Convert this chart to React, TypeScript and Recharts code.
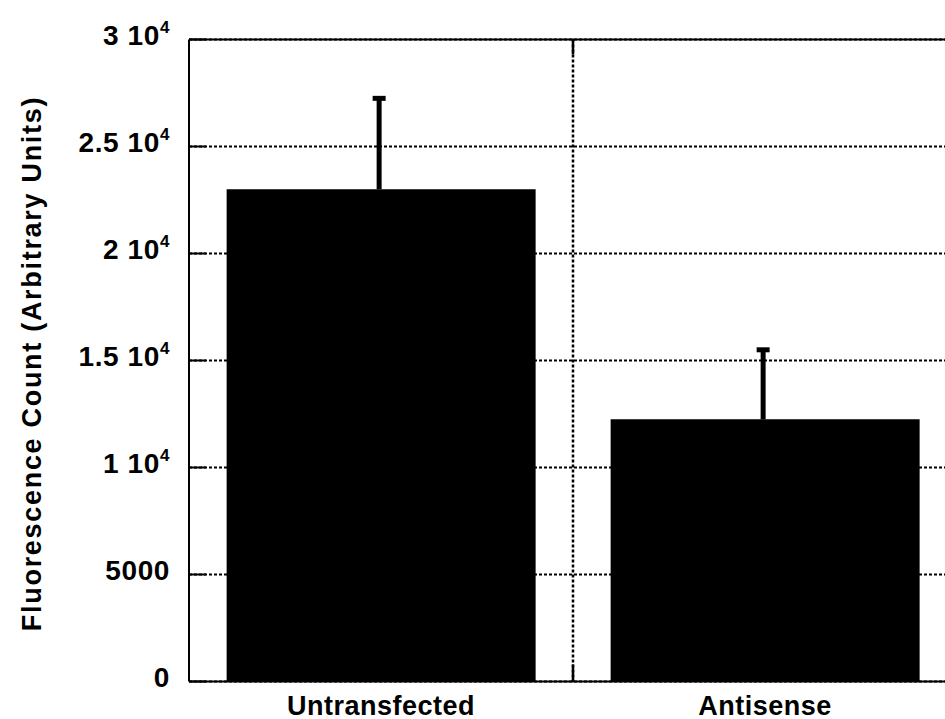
import React from 'react';
import { BarChart, Bar, XAxis, YAxis, CartesianGrid, ReferenceLine } from 'recharts';

const categories = ['Untransfected', 'Antisense'];
const means = [23000, 12250];
const errors = [4250, 3250];
const yTicks = [0, 5000, 10000, 15000, 20000, 25000, 30000];
const yTickBase = ['0', '5000', '1 10', '1.5 10', '2 10', '2.5 10', '3 10'];
const yTickExp = ['', '', '4', '4', '4', '4', '4'];
const yLabel = 'Fluorescence Count (Arbitrary Units)';

const data = categories.map((c, i) => ({ name: c, mean: means[i], err: errors[i] }));

const FONT = '"Liberation Sans", Arial, Helvetica, sans-serif';

const YTick = (props: any) => {
  const { x, y, payload } = props;
  const i = yTicks.indexOf(payload.value);
  return (
    <g>
      <line x1={x} x2={x + 17} y1={y} y2={y} stroke="#000" strokeWidth={2} />
      <text
        x={x - 19}
        y={y + 5}
        textAnchor="end"
        fontFamily={FONT}
        fontWeight="bold"
        fontSize={28}
        letterSpacing={0.6}
        fill="#000"
      >
        {yTickBase[i]}
        {yTickExp[i] ? <tspan dy={-12} fontSize={17}>{yTickExp[i]}</tspan> : null}
      </text>
    </g>
  );
};

const XTick = (props: any) => {
  const { x, y, payload } = props;
  return (
    <text
      x={x}
      y={y + 33.5}
      textAnchor="middle"
      fontFamily={FONT}
      fontWeight="bold"
      fontSize={27}
      letterSpacing={0.5}
      fill="#000"
    >
      {payload.value}
    </text>
  );
};

const ErrShape = (props: any) => {
  const { x, y, width, height } = props;
  const cx = x + width / 2 - 2;
  return (
    <g>
      <line x1={cx} x2={cx} y1={y + height} y2={y} stroke="#000" strokeWidth={5} />
      <line x1={cx - 6.5} x2={cx + 6.5} y1={y} y2={y} stroke="#000" strokeWidth={5} />
    </g>
  );
};

const VGrid = (props: any) => {
  const { x1, y1, x2, y2 } = props;
  const top = Math.min(y1, y2);
  const bot = Math.max(y1, y2);
  return (
    <g>
      <line x1={x1} x2={x2} y1={top} y2={bot} stroke="#000" strokeWidth={2.5} strokeDasharray="3 2" />
      <line x1={x1} x2={x2} y1={top} y2={top + 15} stroke="#000" strokeWidth={2.5} />
      <line x1={x1} x2={x2} y1={bot - 17} y2={bot} stroke="#000" strokeWidth={2.5} />
    </g>
  );
};

const YLabel = (props: any) => {
  const vb = props.viewBox || { x: 89, y: 39.5, width: 100, height: 642 };
  const cx = vb.x + vb.width - 148;
  const cy = vb.y + vb.height / 2 + 3;
  return (
    <text
      x={cx}
      y={cy}
      transform={`rotate(-90 ${cx} ${cy})`}
      textAnchor="middle"
      fontFamily={FONT}
      fontWeight="bold"
      fontSize={27}
      letterSpacing={1.7}
      fill="#000"
    >
      {yLabel}
    </text>
  );
};

export default function App() {
  return (
    <div style={{ position: 'fixed', left: 0, top: 0, width: 945, height: 719, overflow: 'hidden', background: '#fff' }}>
      <BarChart
        width={957}
        height={719}
        data={data}
        margin={{ top: 39.5, right: 0, left: 89, bottom: 7.5 }}
        barCategoryGap="9.8%"
      >
        <CartesianGrid
          stroke="#000"
          strokeWidth={2}
          strokeDasharray="3 2"
          vertical={VGrid as any}
          verticalCoordinatesGenerator={({ offset }: any) => [offset.left + offset.width / 2]}
        />
        <XAxis
          dataKey="name"
          type="category"
          height={30}
          tickSize={0}
          tickMargin={0}
          tickLine={false}
          axisLine={{ stroke: '#000', strokeWidth: 2 }}
          tick={<XTick />}
          interval={0}
        />
        <YAxis
          type="number"
          width={100}
          domain={[0, 30000]}
          ticks={yTicks}
          interval={0}
          tickSize={0}
          tickMargin={0}
          tickLine={false}
          axisLine={{ stroke: '#000', strokeWidth: 2 }}
          tick={<YTick />}
          label={{ content: <YLabel /> } as any}
        />
        <ReferenceLine y={30000} stroke="#000" strokeWidth={2} />
        <Bar dataKey="mean" stackId="a" fill="#000" isAnimationActive={false} />
        <Bar dataKey="err" stackId="a" shape={<ErrShape />} isAnimationActive={false} />
      </BarChart>
    </div>
  );
}
